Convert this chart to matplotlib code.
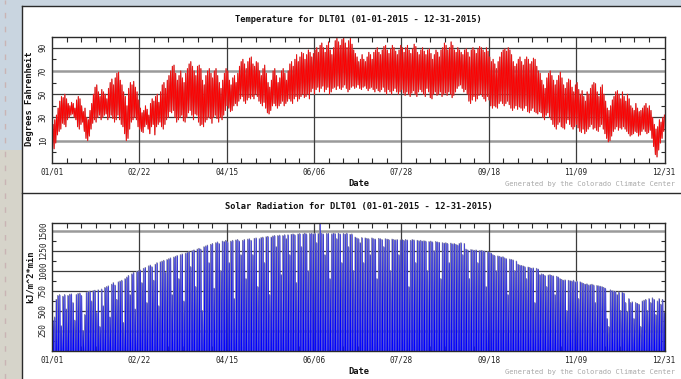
import numpy as np
import matplotlib
matplotlib.use("Agg")
import matplotlib.pyplot as plt
from matplotlib.patches import Rectangle
from matplotlib.lines import Line2D
from matplotlib.ticker import FixedLocator, MultipleLocator

# ---------------- data ----------------
tick_days = [0, 52, 104, 156, 208, 260, 312, 364]
tick_labels = ['01/01', '02/22', '04/15', '06/06', '07/28', '09/18', '11/09', '12/31']

temp_high = [
    24, 28, 32, 38, 44, 48, 47, 50, 46, 42,
    40, 43, 42, 38, 45, 48, 46, 40, 35, 38,
    30, 28, 36, 42, 50, 56, 58, 52, 48, 54,
    52, 50, 46, 55, 60, 63, 58, 64, 68, 69,
    62, 58, 52, 48, 40, 55, 60, 58, 61, 56,
    52, 45, 38, 34, 36, 40, 37, 32, 42, 46,
    44, 48, 50, 43, 52, 58, 60, 55, 62, 66,
    70, 74, 75, 68, 62, 66, 70, 64, 60, 68,
    72, 76, 78, 74, 70, 66, 74, 75, 72, 62,
    58, 66, 70, 72, 68, 64, 70, 72, 66, 60,
    55, 62, 68, 72, 70, 62, 58, 64, 66, 60,
    68, 74, 78, 80, 76, 72, 78, 81, 82, 76,
    74, 78, 77, 70, 66, 72, 75, 68, 60, 56,
    62, 70, 72, 66, 60, 64, 70, 72, 68, 62,
    70, 76, 78, 74, 80, 84, 78, 82, 86, 85,
    80, 84, 88, 86, 82, 85, 88, 90, 86, 92,
    94, 90, 86, 92, 95, 88, 84, 90, 96, 98,
    95, 92, 97, 99, 94, 90, 96, 98, 93, 88,
    85, 82, 78, 80, 84, 80, 78, 82, 86, 84,
    80, 86, 88, 90, 86, 84, 88, 91, 92, 88,
    85, 89, 92, 90, 87, 84, 88, 92, 90, 86,
    90, 92, 88, 85, 89, 93, 91, 86, 84, 88,
    90, 87, 84, 88, 89, 85, 80, 84, 88, 86,
    82, 88, 90, 94, 92, 88, 90, 95, 92, 88,
    86, 90, 88, 86, 84, 88, 89, 86, 82, 88,
    90, 88, 85, 89, 91, 90, 88, 86, 90, 87,
    82, 78, 80, 76, 72, 78, 82, 86, 88, 89,
    87, 90, 88, 84, 78, 74, 76, 80, 82, 78,
    75, 80, 82, 80, 76, 78, 81, 80, 74, 70,
    68, 62, 58, 55, 64, 68, 70, 66, 62, 58,
    62, 66, 69, 64, 58, 55, 60, 63, 62, 56,
    52, 58, 60, 54, 50, 53, 48, 44, 52, 50,
    55, 58, 60, 59, 52, 48, 56, 58, 50, 44,
    38, 36, 40, 45, 48, 52, 53, 50, 46, 52,
    48, 44, 50, 46, 40, 38, 36, 42, 38, 35,
    36, 38, 40, 42, 38, 40, 36, 30, 24, 20,
    22, 28, 26, 30, 32,
]

temp_low = [
    6, 3, 8, 15, 18, 20, 25, 24, 22, 28,
    30, 32, 33, 30, 28, 22, 20, 24, 26, 18,
    12, 10, 14, 20, 25, 28, 26, 30, 32, 28,
    30, 32, 33, 28, 30, 32, 29, 26, 28, 32,
    28, 24, 22, 16, 10, 12, 20, 26, 28, 30,
    28, 22, 20, 18, 17, 22, 24, 20, 16, 22,
    24, 15, 22, 24, 26, 22, 20, 24, 28, 30,
    35, 34, 36, 30, 26, 28, 30, 32, 27, 26,
    30, 34, 36, 32, 28, 33, 32, 26, 23, 24,
    22, 26, 28, 30, 29, 25, 30, 32, 29, 26,
    30, 28, 32, 36, 40, 38, 35, 36, 40, 42,
    40, 44, 46, 48, 44, 42, 45, 47, 46, 48,
    46, 50, 48, 44, 42, 40, 43, 38, 34, 33,
    36, 40, 42, 40, 38, 40, 42, 44, 40, 42,
    44, 46, 44, 42, 46, 48, 44, 46, 48, 50,
    47, 48, 50, 46, 52, 55, 50, 54, 56, 52,
    55, 57, 52, 54, 56, 50, 52, 55, 56, 54,
    57, 55, 54, 56, 58, 55, 52, 54, 56, 57,
    55, 56, 58, 55, 54, 56, 57, 55, 53, 55,
    56, 54, 52, 55, 53, 52, 54, 56, 52, 50,
    54, 52, 50, 53, 55, 52, 50, 52, 54, 51,
    49, 52, 50, 48, 51, 53, 50, 48, 52, 54,
    52, 50, 48, 55, 52, 47, 46, 50, 52, 49,
    50, 52, 48, 50, 51, 49, 52, 50, 47, 49,
    52, 55, 57, 58, 55, 52, 54, 50, 44, 42,
    45, 48, 44, 46, 49, 50, 48, 46, 44, 48,
    45, 40, 38, 40, 39, 38, 42, 44, 42, 40,
    42, 44, 41, 38, 36, 38, 40, 37, 39, 38,
    36, 38, 40, 35, 34, 36, 38, 35, 34, 33,
    35, 34, 30, 28, 32, 34, 30, 28, 24, 22,
    20, 24, 26, 22, 21, 20, 25, 28, 24, 22,
    20, 22, 24, 21, 18, 17, 20, 16, 18, 20,
    22, 24, 20, 21, 19, 18, 22, 24, 20, 16,
    12, 9, 10, 14, 18, 20, 22, 19, 21, 20,
    22, 20, 18, 16, 14, 15, 16, 18, 17, 14,
    15, 18, 20, 18, 16, 17, 19, 12, 5, -2,
    -4, 2, 8, 12, 18,
]

solar_peak = [
    380, 420, 640, 690, 700, 310, 680, 700, 520, 690,
    705, 710, 600, 380, 700, 715, 720, 690, 250, 450,
    730, 740, 745, 620, 750, 755, 480, 760, 300, 770,
    560, 790, 800, 810, 420, 830, 850, 820, 640, 860,
    870, 880, 350, 900, 920, 940, 700, 960, 980, 520,
    990, 1000, 1010, 850, 1030, 1040, 600, 1060, 1070, 1050,
    880, 1080, 1100, 560, 1110, 1120, 1130, 980, 1140, 1150,
    1160, 700, 1170, 1180, 1190, 900, 1200, 1210, 620, 1220,
    1230, 1240, 1050, 1250, 1260, 800, 1270, 1280, 1270, 500,
    1300, 1310, 1320, 1100, 1330, 1340, 780, 1350, 1360, 1340,
    1000, 1370, 1365, 1380, 1360, 1100, 1370, 1380, 650, 1385,
    1390, 1370, 1200, 1380, 1390, 900, 1395, 1400, 1380, 1200,
    1405, 1410, 800, 1400, 1415, 1420, 1100, 1425, 1430, 700,
    1420, 1435, 1440, 1300, 1440, 1445, 950, 1440, 1450, 1400,
    1450, 1200, 1455, 1460, 1450, 850, 1460, 1465, 1300, 1460,
    1470, 1460, 1000, 1465, 1470, 1460, 1470, 1350, 1465, 1590,
    1470, 1460, 1200, 1465, 1470, 900, 1460, 1470, 1465, 1400,
    1470, 1460, 1100, 1465, 1460, 1470, 1300, 1455, 1460, 1000,
    1420, 1410, 1400, 1350, 1415, 1100, 1410, 1405, 1400, 1200,
    1410, 1400, 1395, 900, 1405, 1400, 1390, 1300, 1400, 1395,
    1390, 1000, 1395, 1390, 1385, 1390, 1200, 1385, 1390, 1380,
    1390, 1385, 800, 1380, 1390, 1385, 1100, 1380, 1375, 1380,
    1370, 1375, 1370, 1000, 1365, 1370, 1360, 1250, 1365, 1360,
    1355, 900, 1350, 1345, 1350, 1340, 1100, 1345, 1335, 1340,
    1330, 1320, 1340, 1350, 1200, 1340, 1270, 1260, 900, 1265,
    1260, 1255, 1260, 1100, 1250, 1255, 1250, 1245, 800, 1240,
    1230, 1220, 1200, 1190, 1000, 1185, 1180, 1170, 1175, 1160,
    1150, 700, 1145, 1140, 1135, 1000, 1120, 1080, 1070, 1065,
    1060, 1050, 900, 1045, 1040, 1030, 1035, 600, 1030, 1020,
    950, 960, 955, 940, 800, 945, 950, 940, 935, 700,
    930, 920, 900, 890, 880, 885, 500, 880, 875, 870,
    880, 860, 870, 650, 860, 850, 840, 830, 835, 820,
    825, 830, 820, 600, 815, 810, 805, 800, 790, 780,
    400, 300, 760, 750, 745, 740, 700, 735, 500, 730,
    720, 600, 490, 650, 600, 610, 400, 600, 590, 580,
    300, 620, 630, 640, 500, 650, 600, 660, 640, 450,
    620, 650, 580, 640, 480,
]

temp_yticks = [10, 30, 50, 70, 90]
solar_yticks = [250, 500, 750, 1000, 1250, 1500]

# ---------------- figure ----------------
W, H = 681, 379
fig = plt.figure(figsize=(W / 100, H / 100), dpi=100)
fig.patch.set_facecolor('#c9d5e0')

def fx(x):
    return x / W

def fy(y):
    return 1 - y / H

# left photo strip hint
fig.add_artist(Rectangle((0, 0), fx(22), fy(150), transform=fig.transFigure,
                         fc='#d6d4ca', ec='none', zorder=0))
fig.add_artist(Line2D([fx(5), fx(5)], [0, 1], transform=fig.transFigure,
                      color='#c9b4b4', lw=1, ls=(0, (4, 6)), zorder=0))
# white panels
fig.add_artist(Rectangle((fx(22), fy(379)), 1 - fx(22), fy(6) - fy(379),
                         transform=fig.transFigure, fc='white', ec='none', zorder=0))
for y in (6, 193):
    fig.add_artist(Line2D([fx(22), 1], [fy(y), fy(y)], transform=fig.transFigure,
                          color='#2a2a2a', lw=1.0, zorder=1))
fig.add_artist(Line2D([fx(22), fx(22)], [0, fy(6)], transform=fig.transFigure,
                      color='#2a2a2a', lw=1.0, zorder=1))

mono = 'DejaVu Sans Mono'

ax1 = fig.add_axes([fx(52), fy(163), fx(665) - fx(52), fy(37) - fy(163)])
ax2 = fig.add_axes([fx(52), fy(351), fx(665) - fx(52), fy(223) - fy(351)])

days = np.arange(len(temp_high))

# temperature zigzag: low in the morning, high in the afternoon
tx = np.column_stack([days + 0.25, days + 0.65]).ravel()
ty = np.column_stack([temp_low, temp_high]).ravel()
ax1.plot(tx, ty, color='#b85050', lw=0.8, zorder=3)
ax1.plot(tx, ty, color='#ff0000', lw=0.5, zorder=4)

# solar: zero at night, midday plateau at the day's peak
sdays = np.arange(len(solar_peak))
zeros = np.zeros(len(solar_peak))
sx = np.column_stack([sdays + 0.12, sdays + 0.36, sdays + 0.64, sdays + 0.88]).ravel()
sy = np.column_stack([zeros, solar_peak, solar_peak, zeros]).ravel()
ax2.plot(sx, sy, color='#8080a8', lw=0.55, zorder=3)
ax2.fill_between(sx, 0, sy, color='#0000ff', lw=0, zorder=4, antialiased=False)

def style(ax, ylim, yt, grey_vals, minor_y):
    ax.set_xlim(0, 365)
    ax.set_ylim(*ylim)
    ax.set_facecolor('white')
    for s in ax.spines.values():
        s.set_color('#2a2a2a')
        s.set_linewidth(1.0)
        s.set_zorder(6)
    for v in yt:
        if v in grey_vals:
            ax.axhline(v, color='#9a9a9a', lw=1.8, zorder=1)
        else:
            ax.axhline(v, color='#3c3c3c', lw=0.9, zorder=1)
    for d in tick_days[1:-1]:
        ax.axvline(d, color='#3c3c3c', lw=0.9, zorder=1)
    ax.set_xticks(tick_days)
    ax.set_xticklabels(tick_labels, fontfamily=mono, fontsize=5.6, color='#222222')
    ax.xaxis.set_minor_locator(MultipleLocator(52 / 6))
    ax.set_yticks(yt)
    ax.set_yticklabels([str(v) for v in yt], rotation=90, va='center',
                       fontfamily=mono, fontsize=5.6, color='#222222')
    ax.yaxis.set_minor_locator(FixedLocator(minor_y))
    ax.tick_params(axis='both', which='major', length=0, pad=3)
    ax.tick_params(axis='x', which='major', pad=3.5)
    ax.tick_params(axis='x', which='minor', direction='in', length=3.5,
                   top=True, bottom=True, color='#2a2a2a', width=0.8)
    ax.tick_params(axis='y', which='minor', direction='in', length=3,
                   left=True, right=True, color='#2a2a2a', width=0.8)

style(ax1, (-9.2, 99.2), temp_yticks, (10, 70), [0, 20, 40, 60, 80])
style(ax2, (-6, 1597), solar_yticks, (250, 1500), [125, 375, 625, 875, 1125, 1375])

cx = fx((52 + 665) / 2)
fig.text(cx, fy(19), 'Temperature for DLT01 (01-01-2015 - 12-31-2015)', ha='center',
         va='center', fontfamily=mono, fontsize=6.3, fontweight='bold', color='#111111')
fig.text(cx, fy(206), 'Solar Radiation for DLT01 (01-01-2015 - 12-31-2015)', ha='center',
         va='center', fontfamily=mono, fontsize=6.3, fontweight='bold', color='#111111')
fig.text(cx, fy(183.5), 'Date', ha='center', va='center', fontfamily=mono,
         fontsize=6.3, fontweight='bold', color='#111111')
fig.text(cx, fy(371), 'Date', ha='center', va='center', fontfamily=mono,
         fontsize=6.3, fontweight='bold', color='#111111')
fig.text(fx(30), fy(99), 'Degrees Fahrenheit', rotation=90, ha='center', va='center',
         fontfamily=mono, fontsize=6.3, fontweight='bold', color='#111111')
fig.text(fx(30), fy(277), 'kJ/m^2*min', rotation=90, ha='center', va='center',
         fontfamily=mono, fontsize=6.3, fontweight='bold', color='#111111')
for y in (184, 372):
    fig.text(fx(505), fy(y), 'Generated by the Colorado Climate Center', ha='left',
             va='center', fontfamily=mono, fontsize=5.15, color='#a8a8a8')

fig.savefig('out.png', dpi=100, facecolor=fig.get_facecolor())
